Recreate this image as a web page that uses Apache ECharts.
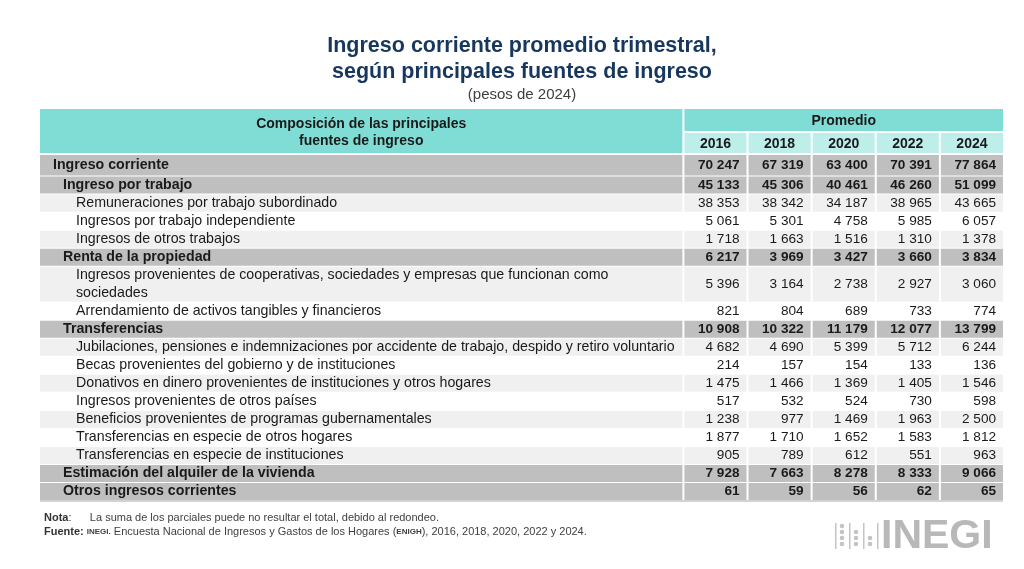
<!DOCTYPE html>
<html>
<head>
<meta charset="utf-8">
<script src="https://cdn.jsdelivr.net/npm/echarts@6/dist/echarts.min.js"></script>
<style>
  html, body { margin: 0; padding: 0; background: #fff; }
  #main { width: 1024px; height: 569px; }
</style>
</head>
<body>
<div id="main"></div>
<script>
// datos del cuadro (ENIGH, pesos de 2024)
var years = ['2016', '2018', '2020', '2022', '2024'];
var labels = [
  'Ingreso corriente',
  'Ingreso por trabajo',
  'Remuneraciones por trabajo subordinado',
  'Ingresos por trabajo independiente',
  'Ingresos de otros trabajos',
  'Renta de la propiedad',
  'Ingresos provenientes de cooperativas, sociedades y empresas que funcionan como\nsociedades',
  'Arrendamiento de activos tangibles y financieros',
  'Transferencias',
  'Jubilaciones, pensiones e indemnizaciones por accidente de trabajo, despido y retiro voluntario',
  'Becas provenientes del gobierno y de instituciones',
  'Donativos en dinero provenientes de instituciones y otros hogares',
  'Ingresos provenientes de otros países',
  'Beneficios provenientes de programas gubernamentales',
  'Transferencias en especie de otros hogares',
  'Transferencias en especie de instituciones',
  'Estimación del alquiler de la vivienda',
  'Otros ingresos corrientes'
];
var levels = [0, 1, 2, 2, 2, 1, 2, 2, 1, 2, 2, 2, 2, 2, 2, 2, 1, 1];
var rowSpan = [1.2, 1, 1, 1, 1, 1, 2, 1, 1, 1, 1, 1, 1, 1, 1, 1, 1, 1];

var v2016 = [70247, 45133, 38353, 5061, 1718, 6217, 5396, 821, 10908, 4682, 214, 1475, 517, 1238, 1877, 905, 7928, 61];
var v2018 = [67319, 45306, 38342, 5301, 1663, 3969, 3164, 804, 10322, 4690, 157, 1466, 532, 977, 1710, 789, 7663, 59];
var v2020 = [63400, 40461, 34187, 4758, 1516, 3427, 2738, 689, 11179, 5399, 154, 1369, 524, 1469, 1652, 612, 8278, 56];
var v2022 = [70391, 46260, 38965, 5985, 1310, 3660, 2927, 733, 12077, 5712, 133, 1405, 730, 1963, 1583, 551, 8333, 62];
var v2024 = [77864, 51099, 43665, 6057, 1378, 3834, 3060, 774, 13799, 6244, 136, 1546, 598, 2500, 1812, 963, 9066, 65];
var valores = [v2016, v2018, v2020, v2022, v2024];

var FONT = '"Liberation Sans", Arial, sans-serif';
var TEAL = '#80ddd6', TEAL2 = '#bdeeea', DARK = '#bfbfbf', LIGHT = '#f0f0f0';
var HEAD = -2.55;   // alto del encabezado en unidades de renglon
var LABW = 10.05;   // ancho de la columna de conceptos en unidades de columna

function miles(n) {
  return String(n).replace(/\B(?=(\d{3})+(?!\d))/g, ' ');
}

// armar celdas
var cells = [];
cells.push({ r: [0, LABW, HEAD, 0], fill: TEAL, text: 'Composición de las principales\nfuentes de ingreso',
  align: 'center', bold: true, size: 14, lh: 16.5, dy: 1.5, gapY: 2 });
cells.push({ r: [LABW, LABW + years.length, HEAD, -1.22], fill: TEAL, text: 'Promedio', align: 'center', bold: true, size: 14, dy: 1, gapY: 2 });
years.forEach(function (y, j) {
  cells.push({ r: [LABW + j, LABW + j + 1, -1.22, 0], fill: TEAL2, text: y, align: 'center', bold: true, size: 14, dy: 1, gapY: 2 });
});

var y0 = 0, alt = 0;
labels.forEach(function (lab, i) {
  var lv = levels[i];
  var fill;
  if (lv < 2) { fill = DARK; alt = 0; }
  else { fill = (alt % 2 === 0) ? LIGHT : null; alt++; }
  var bold = lv < 2;
  var y1 = y0 + rowSpan[i];
  cells.push({ r: [0, LABW, y0, y1], fill: fill, text: lab, align: 'left',
    pad: [13, 23, 36][lv], bold: bold, size: 14.2, lh: 18, gapY: 1 });
  valores.forEach(function (serie, j) {
    cells.push({ r: [LABW + j, LABW + j + 1, y0, y1], fill: fill, text: miles(serie[i]),
      align: 'right', pad: 7, bold: bold, size: 13.6, gapY: 1 });
  });
  y0 = y1;
});

function renderItem(params, api) {
  var c = cells[params.dataIndex];
  var p0 = api.coord([api.value(0), api.value(2)]);
  var p1 = api.coord([api.value(1), api.value(3)]);
  var x = p0[0], y = p0[1];
  var w = p1[0] - p0[0] - 2, h = p1[1] - p0[1] - c.gapY;
  var children = [];
  if (c.fill) {
    children.push({ type: 'rect', shape: { x: x, y: y, width: w, height: h }, style: { fill: c.fill } });
  }
  var tx = c.align === 'left' ? x + c.pad : (c.align === 'right' ? x + w - c.pad : x + w / 2);
  children.push({
    type: 'text',
    style: {
      text: c.text, x: tx, y: y + h / 2 + (c.dy || 0), align: c.align, verticalAlign: 'middle',
      fontSize: c.size, fontWeight: c.bold ? 'bold' : 'normal', fontFamily: FONT,
      fill: '#1a1a1a', lineHeight: c.lh || 16
    }
  });
  return { type: 'group', children: children };
}

// logo INEGI (decorativo)
var logo = [];
[835, 849, 863, 877].forEach(function (lx) {
  logo.push({ type: 'rect', shape: { x: lx, y: 523, width: 1.5, height: 26 }, style: { fill: '#c4c4c4' } });
});
for (var k = 0; k < 4; k++) {
  logo.push({ type: 'circle', shape: { cx: 842, cy: 526 + k * 6, r: 2.3 }, style: { fill: '#c4c4c4' } });
  if (k > 0) logo.push({ type: 'circle', shape: { cx: 856, cy: 526 + k * 6, r: 2.3 }, style: { fill: '#c4c4c4' } });
  if (k > 1) logo.push({ type: 'circle', shape: { cx: 870, cy: 526 + k * 6, r: 2.3 }, style: { fill: '#c4c4c4' } });
}
logo.push({ type: 'text', style: { text: 'INEGI', x: 881, y: 537, verticalAlign: 'middle',
  fontSize: 41, fontWeight: 900, fontFamily: FONT, fill: '#b8b8b8' } });

var myChart = echarts.init(document.getElementById('main'));
var option = {
  animation: false,
  backgroundColor: '#fff',
  title: {
    text: 'Ingreso corriente promedio trimestral,\nsegún principales fuentes de ingreso',
    subtext: '(pesos de 2024)',
    left: 517,
    textAlign: 'center',
    top: 28,
    itemGap: 2,
    textStyle: { fontSize: 21.5, fontWeight: 'bold', color: '#17375e', lineHeight: 26, fontFamily: FONT },
    subtextStyle: { fontSize: 15, color: '#404040', fontFamily: FONT }
  },
  grid: { left: 40, right: 19, top: 109, bottom: 68 },
  xAxis: { type: 'value', min: 0, max: LABW + years.length, show: false },
  yAxis: { type: 'value', min: HEAD, max: y0, inverse: true, show: false },
  series: [{
    type: 'custom',
    silent: true,
    renderItem: renderItem,
    encode: { x: [0, 1], y: [2, 3] },
    data: cells.map(function (c) { return c.r; })
  }],
  graphic: [
    { type: 'rect', shape: { x: 40, y: 500.5, width: 963, height: 1 }, style: { fill: '#a8a8a8' } },
    { type: 'text', style: {
        text: '{b|Nota}:      La suma de los parciales puede no resultar el total, debido al redondeo.',
        x: 44, y: 518, verticalAlign: 'middle', fontSize: 11, fontFamily: FONT, fill: '#404040',
        rich: { b: { fontWeight: 'bold', fontSize: 11, fontFamily: FONT, fill: '#333' } }
    } },
    { type: 'text', style: {
        text: '{b|Fuente:} {s|INEGI.} Encuesta Nacional de Ingresos y Gastos de los Hogares ({s|ENIGH}), 2016, 2018, 2020, 2022 y 2024.',
        x: 44, y: 532, verticalAlign: 'middle', fontSize: 11, fontFamily: FONT, fill: '#404040',
        rich: {
          b: { fontWeight: 'bold', fontSize: 11, fontFamily: FONT, fill: '#333' },
          s: { fontWeight: 'bold', fontSize: 8, fontFamily: FONT, fill: '#404040' }
        }
    } },
    { type: 'group', children: logo }
  ]
};
myChart.setOption(option);
</script>
</body>
</html>
